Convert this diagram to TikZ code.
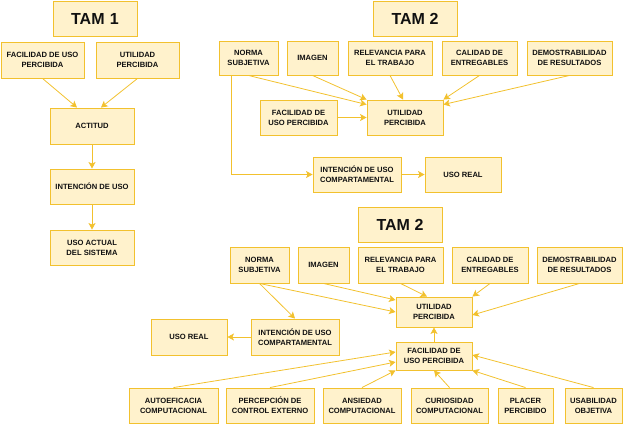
\documentclass[tikz,border=0pt]{standalone}
\usepackage{fontspec}
\setmainfont{Liberation Sans}
\usetikzlibrary{arrows.meta}
\definecolor{boxfill}{HTML}{FFF2CC}
\definecolor{boxline}{HTML}{F2C12E}
\definecolor{txt}{HTML}{111111}
\begin{document}
\begin{tikzpicture}[x=1pt,y=-1pt,
  box/.style={draw=boxline,fill=boxfill,line width=0.9pt,inner sep=1pt,align=center,
    text=txt,font=\fontsize{7.6}{10}\selectfont\bfseries},
  ttl/.style={box,font=\fontsize{16}{18}\selectfont\bfseries,minimum width=84pt,minimum height=35pt},
  arr/.style={draw=boxline,line width=0.8pt,-{Stealth[length=6.5pt,width=7pt,inset=1.5pt]}}]
\useasboundingbox (0,0) rectangle (624,424);

% ---- TAM 1 ----
\node[ttl] (t1) at (95,18.5) {TAM\,\,1};
\node[box,minimum width=83pt,minimum height=36pt] (fac1) at (42.5,60) {FACILIDAD DE USO\\PERCIBIDA};
\node[box,minimum width=83pt,minimum height=36pt] (uti1) at (137.5,60) {UTILIDAD\\PERCIBIDA};
\node[box,minimum width=84pt,minimum height=36pt] (act) at (92,126) {ACTITUD};
\node[box,minimum width=84pt,minimum height=35pt] (int1) at (92,186.5) {INTENCIÓN DE USO};
\node[box,minimum width=84pt,minimum height=35pt] (uso1) at (92,247.5) {USO ACTUAL\\DEL SISTEMA};
\draw[arr] (fac1.south) -- ([xshift=-15pt]act.north);
\draw[arr] (uti1.south) -- ([xshift=9pt]act.north);
\draw[arr] (act.south) -- (int1.north);
\draw[arr] (int1.south) -- (uso1.north);

% ---- TAM 2 (top) ----
\node[ttl] (t2) at (415,18.5) {TAM 2};
\node[box,minimum width=59pt,minimum height=34pt] (norma2) at (248.5,58) {NORMA\\SUBJETIVA};
\node[box,minimum width=51pt,minimum height=34pt] (imagen2) at (312.5,58) {IMAGEN};
\node[box,minimum width=84pt,minimum height=34pt] (rel2) at (390,58) {RELEVANCIA PARA\\EL TRABAJO};
\node[box,minimum width=75pt,minimum height=34pt] (cal2) at (479.5,58) {CALIDAD DE\\ENTREGABLES};
\node[box,minimum width=85pt,minimum height=34pt] (dem2) at (569.5,58) {DEMOSTRABILIDAD\\DE RESULTADOS};
\node[box,minimum width=77pt,minimum height=35pt] (fac2) at (298.5,117.5) {FACILIDAD DE\\USO PERCIBIDA};
\node[box,minimum width=76pt,minimum height=35pt] (uti2) at (405,117.5) {UTILIDAD\\PERCIBIDA};
\node[box,minimum width=88pt,minimum height=35pt] (int2) at (357,174.5) {INTENCIÓN DE USO\\COMPARTAMENTAL};
\node[box,minimum width=76pt,minimum height=35pt] (usor2) at (463,174.5) {USO REAL};
\draw[arr] (norma2.south) -- ([yshift=13pt]uti2.west);
\draw[arr] (imagen2.south) -- (uti2.north west);
\draw[arr] (rel2.south) -- ([xshift=-2pt]uti2.north);
\draw[arr] (cal2.south) -- (uti2.north east);
\draw[arr] (dem2.south) -- ([yshift=13pt]uti2.east);
\draw[arr] (fac2.east) -- (uti2.west);
\draw[arr] ([xshift=-17.5pt]norma2.south) |- (int2.west);
\draw[arr] (int2.east) -- (usor2.west);

% ---- TAM 2 (bottom) ----
\node[ttl] (t3) at (400,224.5) {TAM 2};
\node[box,minimum width=59pt,minimum height=36pt] (norma3) at (259.5,265) {NORMA\\SUBJETIVA};
\node[box,minimum width=51pt,minimum height=36pt] (imagen3) at (323.5,265) {IMAGEN};
\node[box,minimum width=85pt,minimum height=36pt] (rel3) at (400.5,265) {RELEVANCIA PARA\\EL TRABAJO};
\node[box,minimum width=76pt,minimum height=36pt] (cal3) at (490,265) {CALIDAD DE\\ENTREGABLES};
\node[box,minimum width=85pt,minimum height=36pt] (dem3) at (579.5,265) {DEMOSTRABILIDAD\\DE RESULTADOS};
\node[box,minimum width=76pt,minimum height=30pt] (uti3) at (434,312) {UTILIDAD\\PERCIBIDA};
\node[box,minimum width=76pt,minimum height=28pt] (fac3) at (434,356) {FACILIDAD DE\\USO PERCIBIDA};
\node[box,minimum width=88pt,minimum height=36pt] (int3) at (295,337) {INTENCIÓN DE USO\\COMPARTAMENTAL};
\node[box,minimum width=76pt,minimum height=36pt] (usor3) at (189,337) {USO REAL};
\node[box,minimum width=89pt,minimum height=35pt] (auto) at (173.5,405.5) {AUTOEFICACIA\\COMPUTACIONAL};
\node[box,minimum width=88pt,minimum height=35pt] (perc) at (270,405.5) {PERCEPCIÓN DE\\CONTROL EXTERNO};
\node[box,minimum width=78pt,minimum height=35pt] (ans) at (362,405.5) {ANSIEDAD\\COMPUTACIONAL};
\node[box,minimum width=77pt,minimum height=35pt] (cur) at (449.5,405.5) {CURIOSIDAD\\COMPUTACIONAL};
\node[box,minimum width=55pt,minimum height=35pt] (plac) at (525.5,405.5) {PLACER\\PERCIBIDO};
\node[box,minimum width=57pt,minimum height=35pt] (usab) at (593.5,405.5) {USABILIDAD\\OBJETIVA};
\draw[arr] (norma3.south) -- (int3.north);
\draw[arr] (norma3.south) -- (uti3.west);
\draw[arr] (imagen3.south) -- ([yshift=12pt]uti3.west);
\draw[arr] (rel3.south) -- ([xshift=-7pt]uti3.north);
\draw[arr] (cal3.south) -- (uti3.north east);
\draw[arr] (dem3.south) -- ([yshift=-3pt]uti3.east);
\draw[arr] (fac3.north) -- (uti3.south);
\draw[arr] (int3.west) -- (usor3.east);
\draw[arr] (auto.north) -- ([yshift=4pt]fac3.west);
\draw[arr] (perc.north) -- ([yshift=-6pt]fac3.west);
\draw[arr] (ans.north) -- (fac3.south west);
\draw[arr] (cur.north) -- (fac3.south);
\draw[arr] (plac.north) -- (fac3.south east);
\draw[arr] (usab.north) -- ([yshift=1pt]fac3.east);
\end{tikzpicture}
\end{document}
